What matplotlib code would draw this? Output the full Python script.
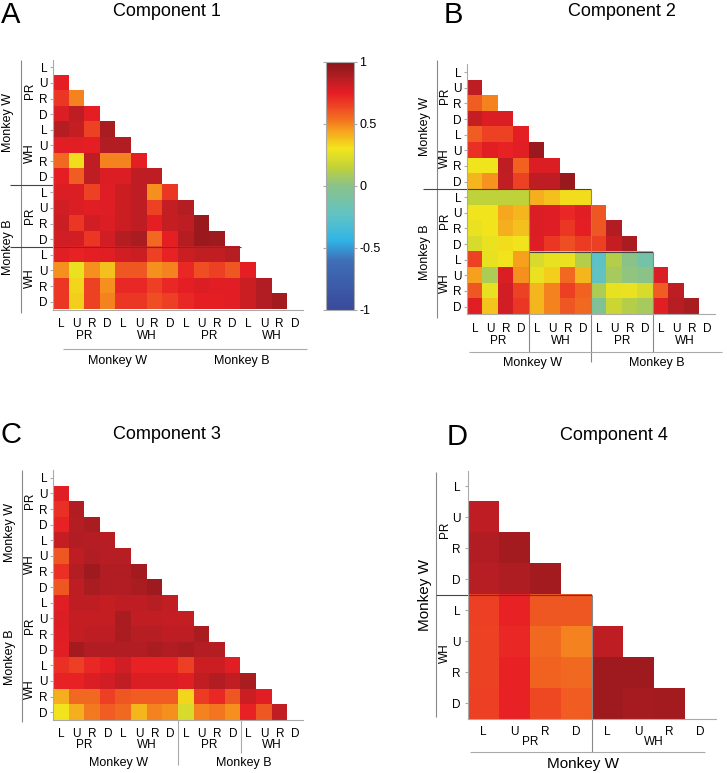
import numpy as np
import matplotlib
matplotlib.use("Agg")
import matplotlib.pyplot as plt
from matplotlib.colors import LinearSegmentedColormap, Normalize
from matplotlib.cm import ScalarMappable

plt.rcParams['font.family'] = ['Liberation Sans', 'DejaVu Sans']

# ---------------- data ----------------
dirs = ["L", "U", "R", "D"]
tick_labels16 = dirs * 4
tick_labels8 = dirs * 2
task_labels16 = ["PR", "WH", "PR", "WH"]
task_labels8 = ["PR", "WH"]
monkey_labels = ["Monkey W", "Monkey B"]
titles = ["Component 1", "Component 2", "Component 3", "Component 4"]
panel_letters = ["A", "B", "C", "D"]
cbar_ticks = [-1, -0.5, 0, 0.5, 1]
cbar_ticklabels = ["-1", "-0.5", "0", "0.5", "1"]

# lower-triangle rows (row i holds columns 0..i-1)
comp1 = [
    [],
    [0.75],
    [0.68, 0.50],
    [0.78, 0.85, 0.75],
    [0.87, 0.83, 0.65, 0.90],
    [0.76, 0.76, 0.75, 0.88, 0.88],
    [0.55, 0.32, 0.85, 0.50, 0.50, 0.75],
    [0.75, 0.58, 0.85, 0.78, 0.78, 0.85, 0.85],
    [0.78, 0.78, 0.65, 0.77, 0.82, 0.85, 0.48, 0.68],
    [0.80, 0.78, 0.76, 0.77, 0.82, 0.85, 0.65, 0.83, 0.87],
    [0.82, 0.68, 0.80, 0.78, 0.82, 0.85, 0.75, 0.83, 0.85, 0.95],
    [0.80, 0.80, 0.68, 0.80, 0.87, 0.90, 0.55, 0.75, 0.87, 0.95, 0.93],
    [0.76, 0.74, 0.75, 0.76, 0.80, 0.82, 0.65, 0.74, 0.82, 0.84, 0.84, 0.86],
    [0.48, 0.28, 0.48, 0.38, 0.60, 0.60, 0.48, 0.50, 0.72, 0.62, 0.66, 0.60, 0.75],
    [0.68, 0.33, 0.65, 0.48, 0.72, 0.72, 0.66, 0.72, 0.75, 0.78, 0.76, 0.76, 0.82, 0.88],
    [0.68, 0.35, 0.65, 0.50, 0.68, 0.68, 0.62, 0.66, 0.72, 0.75, 0.75, 0.76, 0.82, 0.88, 0.92],
]
comp2 = [
    [],
    [0.85],
    [0.58, 0.50],
    [0.83, 0.78, 0.78],
    [0.58, 0.65, 0.65, 0.75],
    [0.70, 0.76, 0.74, 0.76, 0.95],
    [0.30, 0.30, 0.85, 0.57, 0.78, 0.78],
    [0.40, 0.47, 0.84, 0.65, 0.85, 0.85, 0.95],
    [0.15, 0.15, 0.15, 0.15, 0.42, 0.38, 0.32, 0.32],
    [0.30, 0.30, 0.43, 0.40, 0.78, 0.77, 0.72, 0.76, 0.60],
    [0.28, 0.30, 0.42, 0.38, 0.78, 0.77, 0.68, 0.75, 0.60, 0.88],
    [0.22, 0.28, 0.32, 0.30, 0.77, 0.68, 0.62, 0.67, 0.66, 0.83, 0.90],
    [0.65, 0.27, 0.30, 0.45, 0.22, 0.27, 0.28, 0.12, -0.25, 0.12, 0.00, -0.12],
    [0.45, 0.10, 0.78, 0.48, 0.28, 0.35, 0.55, 0.40, -0.22, 0.08, 0.02, 0.00, 0.78],
    [0.60, 0.27, 0.80, 0.65, 0.40, 0.50, 0.66, 0.57, 0.10, 0.27, 0.28, 0.22, 0.58, 0.85],
    [0.76, 0.37, 0.80, 0.68, 0.40, 0.50, 0.60, 0.55, -0.05, 0.18, 0.12, 0.08, 0.76, 0.86, 0.90],
]
comp3 = [
    [],
    [0.76],
    [0.70, 0.88],
    [0.74, 0.87, 0.90],
    [0.83, 0.88, 0.87, 0.86],
    [0.60, 0.85, 0.88, 0.86, 0.86],
    [0.70, 0.87, 0.93, 0.88, 0.88, 0.92],
    [0.60, 0.85, 0.90, 0.88, 0.88, 0.90, 0.93],
    [0.76, 0.85, 0.85, 0.83, 0.85, 0.85, 0.86, 0.84],
    [0.78, 0.83, 0.83, 0.83, 0.90, 0.84, 0.84, 0.83, 0.83],
    [0.77, 0.83, 0.85, 0.85, 0.90, 0.86, 0.86, 0.85, 0.85, 0.90],
    [0.76, 0.92, 0.88, 0.88, 0.88, 0.88, 0.90, 0.88, 0.90, 0.87, 0.87],
    [0.70, 0.66, 0.72, 0.75, 0.80, 0.74, 0.74, 0.74, 0.66, 0.82, 0.82, 0.76],
    [0.74, 0.74, 0.78, 0.80, 0.84, 0.78, 0.78, 0.78, 0.76, 0.84, 0.88, 0.84, 0.90],
    [0.42, 0.55, 0.55, 0.66, 0.60, 0.58, 0.58, 0.58, 0.33, 0.67, 0.72, 0.60, 0.82, 0.76],
    [0.30, 0.42, 0.52, 0.58, 0.55, 0.40, 0.50, 0.48, 0.22, 0.50, 0.53, 0.48, 0.74, 0.60, 0.84],
]
comp4 = [
    [],
    [0.85],
    [0.88, 0.92],
    [0.86, 0.89, 0.92],
    [0.66, 0.74, 0.60, 0.60],
    [0.65, 0.72, 0.55, 0.50, 0.85],
    [0.65, 0.74, 0.57, 0.55, 0.93, 0.93],
    [0.66, 0.74, 0.64, 0.58, 0.93, 0.91, 0.92],
]

# ---------------- style ----------------
W, H, DPI = 727, 773, 100
cmap = LinearSegmentedColormap.from_list("muted_jet", [
    (0.000, "#3a4a9a"),
    (0.200, "#3f6fb8"),
    (0.280, "#30b4e6"),
    (0.380, "#5fc3c6"),
    (0.500, "#8ac28a"),
    (0.575, "#c0d23a"),
    (0.650, "#f2e51c"),
    (0.725, "#f7a11e"),
    (0.775, "#f26a21"),
    (0.875, "#e81e25"),
    (0.940, "#b21e23"),
    (1.000, "#8a1619"),
])
cmap.set_bad("white")
norm = Normalize(-1, 1)

SEP = "#444444"
GRAY = "#aaaaaa"
TICK_FS = 8.5

fig = plt.figure(figsize=(W / DPI, H / DPI), dpi=DPI)
fig.patch.set_facecolor("white")


def px_axes(left, top, w, h):
    return fig.add_axes([left / W, 1 - (top + h) / H, w / W, h / H])


def build(rows):
    n = len(rows)
    m = np.full((n, n), np.nan)
    for i, r in enumerate(rows):
        for j, v in enumerate(r):
            m[i, j] = v
    return m


def line(ax, xs, ys, color=SEP, lw=0.8):
    ax.plot(xs, ys, color=color, lw=lw, clip_on=False, solid_capstyle="butt")


def draw_matrix(ax, rows, xlabels, ylabels):
    m = build(rows)
    n = m.shape[0]
    ax.imshow(m, cmap=cmap, norm=norm, extent=(0, n, n, 0),
              interpolation="nearest", aspect="auto")
    ax.set_xlim(0, n)
    ax.set_ylim(n, 0)
    ax.set_xticks(np.arange(n) + 0.5)
    ax.set_xticklabels(xlabels, fontsize=TICK_FS)
    ax.set_yticks(np.arange(n) + 0.5)
    ax.set_yticklabels(ylabels, fontsize=TICK_FS)
    ax.tick_params(axis="x", length=0, pad=6)
    ax.tick_params(axis="y", length=2, pad=2, color=GRAY)
    for s in ["top", "right"]:
        ax.spines[s].set_visible(False)
    for s in ["left", "bottom"]:
        ax.spines[s].set_color(GRAY)
        ax.spines[s].set_linewidth(0.8)
    return n


def txt(ax, x, y, s, fs=TICK_FS, rot=0):
    ax.text(x, y, s, ha="center", va="center", fontsize=fs, rotation=rot,
            clip_on=False)


# ---------------- Panel A ----------------
axA = px_axes(53, 59.5, 250, 250)
n = draw_matrix(axA, comp1, tick_labels16, tick_labels16)
line(axA, [-2.05, -2.05], [0, 16.2], color="#888888")
line(axA, [-2.75, 0], [8, 8])
line(axA, [-2.75, 12], [12, 12])
line(axA, [0.64, 16.26], [18.55, 18.55], color=GRAY)
for k, lab in enumerate(task_labels16):
    txt(axA, 2 + 4 * k, 17.7, lab)
    txt(axA, -1.47, 2 + 4 * k, lab, rot=90)
for k, lab in enumerate(monkey_labels):
    txt(axA, 4.1 + 8 * k, 19.3, lab, fs=9)
    txt(axA, -2.9, 4 + 8 * k, lab, fs=9, rot=90)

# ---------------- Panel B ----------------
axB = px_axes(467.3, 64.4, 248, 250)
n = draw_matrix(axB, comp2, tick_labels16, tick_labels16)
line(axB, [-1.95, -1.95], [-0.28, 16.2], color="#888888")
line(axB, [-2.86, 8], [8, 8])
line(axB, [4, 12], [12, 12])
line(axB, [4, 4], [8, 18.4], color="#888888")
line(axB, [8, 8], [8, 19.07], color="#888888")
line(axB, [12, 12], [12, 18.4], color="#888888")
line(axB, [0.1, 16.4], [18.4, 18.4], color=GRAY)
for k, lab in enumerate(task_labels16):
    txt(axB, 2 + 4 * k, 17.7, lab)
    txt(axB, -1.44, 2 + 4 * k, lab, rot=90)
for k, lab in enumerate(monkey_labels):
    txt(axB, 4.2 + 8 * k, 19.1, lab, fs=9)
    txt(axB, -2.73, 4 + 8 * k, lab, fs=9, rot=90)

# ---------------- Panel C ----------------
axC = px_axes(53.3, 470, 250, 250)
n = draw_matrix(axC, comp3, tick_labels16, tick_labels16)
line(axC, [-2.0, -2.0], [0, 16.1], color="#888888")
line(axC, [8, 8], [16, 18.9], color=GRAY)
line(axC, [12, 12], [16, 18.1], color=GRAY)
for k, lab in enumerate(task_labels16):
    txt(axC, 2 + 4 * k, 17.6, lab)
    txt(axC, -1.47, 2 + 4 * k, lab, rot=90)
for k, lab in enumerate(monkey_labels):
    txt(axC, 4.2 + 8 * k, 18.75, lab, fs=9)
    txt(axC, -2.8, 4 + 8 * k, lab, fs=9, rot=90)

# ---------------- Panel D ----------------
axD = px_axes(467.7, 470.7, 248, 248)
n = draw_matrix(axD, comp4, tick_labels8, tick_labels8)
axD.tick_params(axis="x", pad=5)
axD.tick_params(axis="y", pad=3)
line(axD, [-1.02, -1.02], [0.04, 7.95], color="#888888")
line(axD, [-1.02, 4], [4, 4])
line(axD, [4, 4], [4, 9.07], color="#888888")
line(axD, [0.07, 7.65], [9.07, 9.07], color=GRAY)
for k, lab in enumerate(task_labels8):
    txt(axD, 2.0 + 4 * k, 8.75, lab)
    txt(axD, -0.73, 1.9 + 4 * k, lab, rot=90)
txt(axD, 3.72, 9.45, monkey_labels[0], fs=11)
txt(axD, -1.38, 4.0, monkey_labels[0], fs=11, rot=90)

# ---------------- Colorbar ----------------
cax = px_axes(326, 62, 28, 248)
cb = fig.colorbar(ScalarMappable(norm=norm, cmap=cmap), cax=cax)
cb.set_ticks(cbar_ticks)
cb.set_ticklabels(cbar_ticklabels)
cb.outline.set_edgecolor(GRAY)
cb.outline.set_linewidth(0.8)
cax.tick_params(axis="y", which="both", left=True, right=True, length=2,
                color=GRAY, labelsize=9, pad=2)

# ---------------- titles & letters ----------------
def ftext(x, y, s, fs, ha="center", va="center"):
    fig.text(x / W, 1 - y / H, s, fontsize=fs, ha=ha, va=va)

ftext(167, 11, titles[0], 13)
ftext(622, 11, titles[1], 13)
ftext(167, 435, titles[2], 13)
ftext(614, 436, titles[3], 13)
ftext(1, 15, panel_letters[0], 21, ha="left")
ftext(444, 15, panel_letters[1], 21, ha="left")
ftext(0, 435, panel_letters[2], 21, ha="left")
ftext(447, 437, panel_letters[3], 21, ha="left")

fig.savefig("out.png", dpi=DPI, facecolor="white")
